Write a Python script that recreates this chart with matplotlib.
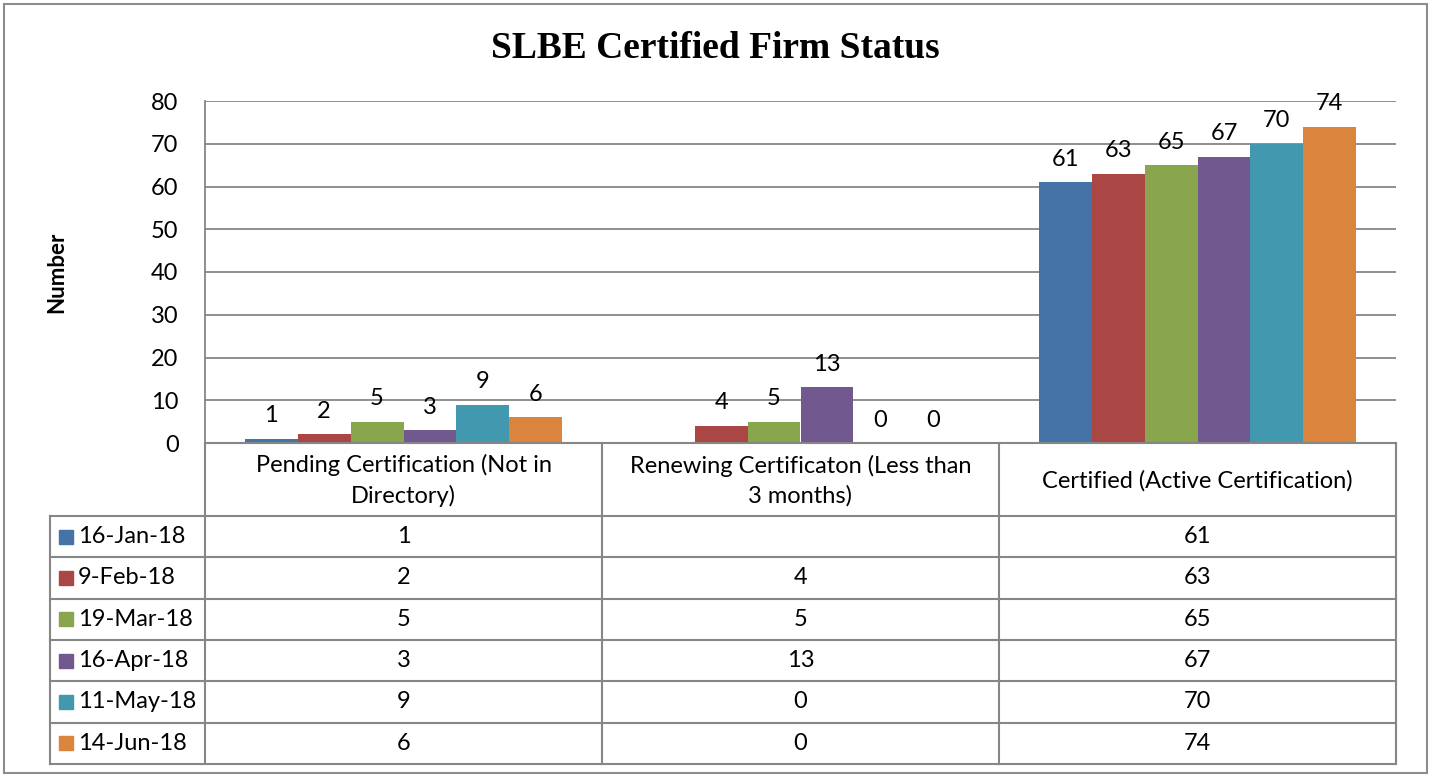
import matplotlib
matplotlib.use("Agg")
import matplotlib.pyplot as plt
import numpy as np
from matplotlib.patches import Rectangle

plt.rcParams['font.family'] = ['Lato', 'DejaVu Sans']

categories = ["Pending Certification (Not in\nDirectory)",
              "Renewing Certificaton (Less than\n3 months)",
              "Certified (Active Certification)"]
series_names = ["16-Jan-18", "9-Feb-18", "19-Mar-18", "16-Apr-18", "11-May-18", "14-Jun-18"]
jan16 = [1, None, 61]
feb9 = [2, 4, 63]
mar19 = [5, 5, 65]
apr16 = [3, 13, 67]
may11 = [9, 0, 70]
jun14 = [6, 0, 74]
series_values = [jan16, feb9, mar19, apr16, may11, jun14]
colors = ['#4572A7', '#AA4643', '#89A54E', '#71588F', '#4198AF', '#DB843D']

W, H = 1431, 777
fig = plt.figure(figsize=(W / 100, H / 100), dpi=100)
grid_c = '#868686'
fs = 17

# plot area in pixels
left, right, top, bottom = 205, 1396, 101, 443
ax = fig.add_axes([left / W, 1 - bottom / H, (right - left) / W, (bottom - top) / H])

n = len(series_names)
group = 0.8
bw = group / n
x = np.arange(len(categories))
for i, (name, vals) in enumerate(zip(series_names, series_values)):
    pos = x - group / 2 + bw * (i + 0.5)
    h = [np.nan if v is None else v for v in vals]
    ax.bar(pos, h, bw, color=colors[i], zorder=3, label=name)
    for p, v in zip(pos, vals):
        if v is None:
            continue
        ax.annotate(str(v), (p, v), xytext=(0, 9), textcoords='offset points',
                    ha='center', va='bottom', fontsize=fs, zorder=4)

ax.set_xlim(-0.5, len(categories) - 0.5)
ax.set_ylim(0, 80)
ax.set_yticks(range(0, 81, 10))
ax.set_xticks([])
ax.grid(axis='y', color=grid_c, lw=1.3, zorder=0)
ax.tick_params(axis='y', length=0, pad=19, labelsize=fs)
for s in ['top', 'right']:
    ax.spines[s].set_visible(False)
ax.spines['left'].set_color(grid_c)
ax.spines['bottom'].set_color(grid_c)
ax.spines['left'].set_linewidth(1.3)
ax.spines['bottom'].set_linewidth(1.3)

# data table below
tab_bottom = 764
header_h = 73
row_h = (tab_bottom - bottom - header_h) / n
tab = fig.add_axes([left / W, 1 - tab_bottom / H, (right - left) / W, (tab_bottom - bottom) / H])
tab.set_xlim(-0.5, len(categories) - 0.5)
tab.set_ylim(tab_bottom - bottom, 0)
tab.axis('off')

px = (len(categories)) / (right - left)  # data units per pixel in x
label_left = -0.5 - (left - 50) * px
lk = dict(color=grid_c, lw=1.5, clip_on=False)

# vertical lines
for xi in np.arange(len(categories) + 1) - 0.5:
    tab.plot([xi, xi], [0, tab_bottom - bottom], **lk)
tab.plot([label_left, label_left], [header_h, tab_bottom - bottom], **lk)
# horizontal lines
tab.plot([-0.5, len(categories) - 0.5], [0, 0], **lk)
for r in range(n + 1):
    y = header_h + r * row_h
    tab.plot([label_left, len(categories) - 0.5], [y, y], **lk)

for j, c in enumerate(categories):
    tab.text(j, header_h / 2 + 1, c, ha='center', va='center', fontsize=fs, linespacing=1.45)

for i, (name, vals) in enumerate(zip(series_names, series_values)):
    yc = header_h + (i + 0.5) * row_h
    tab.add_patch(Rectangle((label_left + 9 * px, yc - 7), 14 * px, 14,
                            color=colors[i], clip_on=False))
    tab.text(label_left + 28 * px, yc, name, ha='left', va='center', fontsize=fs)
    for j, v in enumerate(vals):
        if v is not None:
            tab.text(j, yc, str(v), ha='center', va='center', fontsize=fs)

fig.text(715 / W, 1 - 48 / H, "SLBE Certified Firm Status", ha='center', va='center',
         fontsize=27, fontweight='bold', family='Liberation Serif')
fig.text(57 / W, 1 - 272 / H, "Number", ha='center', va='center', rotation=90,
         fontsize=16, fontweight='bold')

fig.add_artist(Rectangle((4 / W, 4 / H), (W - 8) / W, (H - 8) / H, transform=fig.transFigure,
                         fill=False, edgecolor='#8c8c8c', lw=1.5))

fig.savefig('out.png', dpi=100)
